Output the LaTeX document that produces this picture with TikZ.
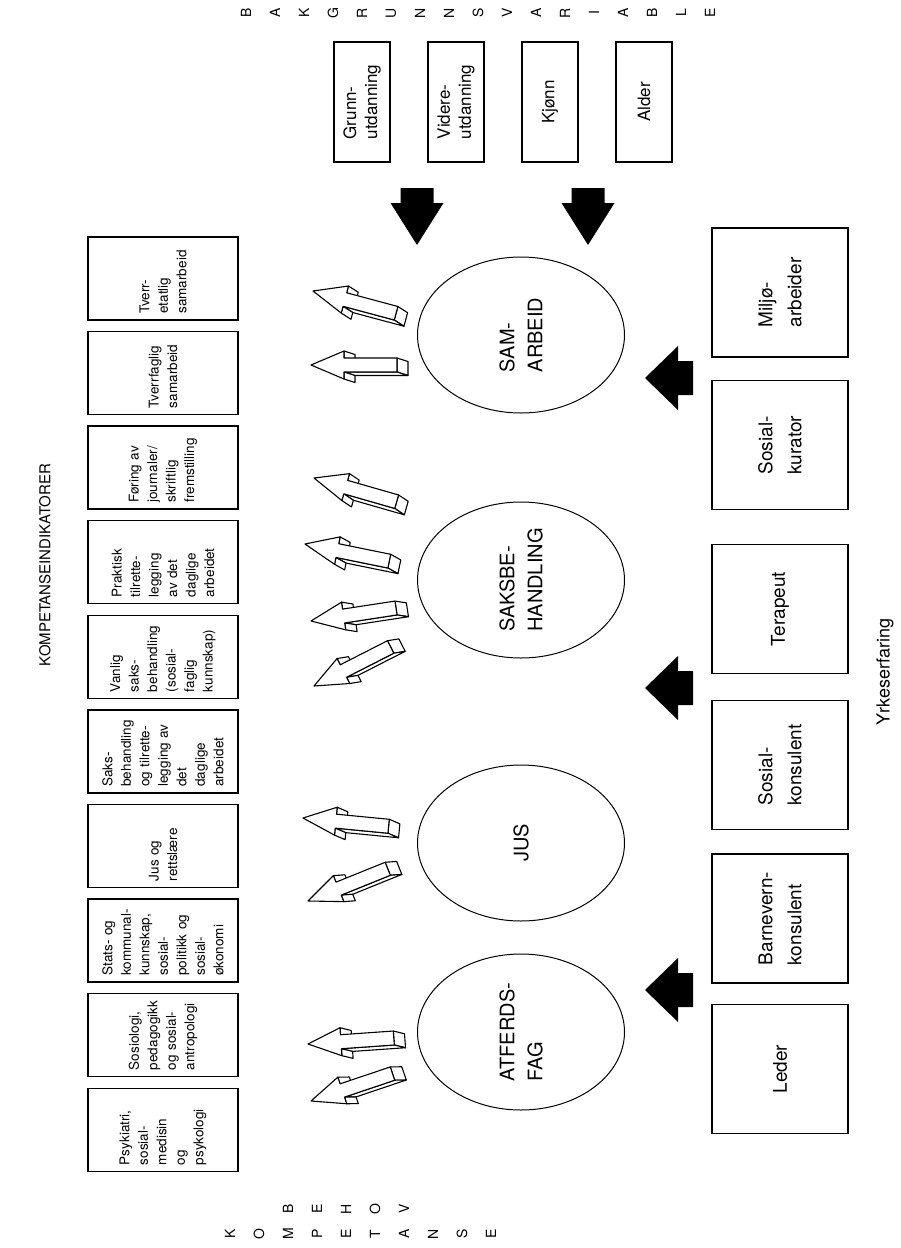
\documentclass[tikz,border=0pt]{standalone}
\usepackage{fontspec}
\setmainfont{TeX Gyre Heros}
\usetikzlibrary{shapes.geometric}

% 3D hollow arrow: tip x, tip y, angle
\newcommand{\hollowarrow}[3]{%
  \begin{scope}[shift={(#1,#2)}, rotate=#3]
    \draw[hollow] (86,-7) -- (97,-3.5) -- (97,10.5) -- (86,7) -- cycle;
    \draw[hollow] (33,7) -- (86,7) -- (97,10.5) -- (44,10.5) -- cycle;
    \draw[hollow] (33,-14) -- (33,-7) -- (44,-3.5) -- (44,-10.5) -- cycle;
    \draw[hollow] (33,14) -- (33,7) -- (44,10.5) -- (44,17.5) -- cycle;
    \draw[hollow] (0,0) -- (33,-14) -- (33,-7) -- (86,-7) -- (86,7)
      -- (33,7) -- (33,14) -- cycle;
  \end{scope}}
\newcommand{\solidleft}[2]{%
  \fill (#1,#2) -- ++(33,-32) -- ++(0,15) -- ++(15,0) -- ++(0,34)
    -- ++(-15,0) -- ++(0,15) -- cycle;}
\newcommand{\soliddown}[2]{%
  \fill (#1,#2) -- ++(-26.5,-42) -- ++(10,0) -- ++(0,-15) -- ++(33,0)
    -- ++(0,15) -- ++(10,0) -- cycle;}

\begin{document}
\begin{tikzpicture}[x=1pt, y=-1pt,
    every node/.style={font=\fontsize{14}{18}\selectfont},
    indbox/.style={draw, line width=1.3pt, rotate=90, minimum width=83pt,
      minimum height=150pt, text width=70pt, align=left, inner sep=0pt,
      font=\fontsize{13.5}{18.5}\selectfont},
    comp/.style={draw, ellipse, line width=1pt, rotate=90, minimum width=156pt,
      minimum height=207pt, inner sep=0pt, align=left,
      font=\fontsize{20}{28}\selectfont},
    job/.style={draw, line width=1.3pt, rotate=90, minimum width=129pt,
      minimum height=136pt, align=left, font=\fontsize{19}{29}\selectfont},
    bgr/.style={draw, line width=1.3pt, rotate=90, minimum width=120pt,
      minimum height=56pt, align=left, font=\fontsize{17}{21}\selectfont},
    hollow/.style={fill=white, draw, line width=1.1pt, line join=round}]
  \fill[white] (0,0) rectangle (900,1248);
  \useasboundingbox (0,0) rectangle (900,1248);

  \node[rotate=90, font=\fontsize{15}{18}\selectfont] (kompind) at (45,565) {KOMPETANSEINDIKATORER};
  \node[rotate=90, font=\fontsize{18}{20}\selectfont] (yrke) at (885,672) {Yrkeserfaring};

  % kompetanseindikatorer
  \node[indbox] (tetat) at (163,278.5) {Tverr-\\etatlig\\samarbeid};
  \node[indbox] (tfag) at (163,373) {Tverrfaglig\\samarbeid};
  \node[indbox] (foring) at (163,467.5) {Føring av\\journaler/\\skriftlig\\fremstilling};
  \node[indbox] (prakt) at (163,562) {Praktisk\\tilrette-\\legging\\av det\\daglige\\arbeidet};
  \node[indbox] (vanlig) at (163,657) {Vanlig\\saks-\\behandling\\(sosial-\\faglig\\kunnskap)};
  \node[indbox] (saks) at (163,751.5) {Saks-\\behandling\\og tilrette-\\legging av\\det\\daglige\\arbeidet};
  \node[indbox] (jus) at (163,846) {Jus og\\rettslære};
  \node[indbox] (stats) at (163,940.5) {Stats- og\\kommunal-\\kunnskap,\\sosial-\\politikk og\\sosial-\\økonomi};
  \node[indbox] (sosio) at (163,1035) {Sosiologi,\\pedagogikk\\og sosial-\\antropologi};
  \node[indbox] (psyk) at (163,1130) {Psykiatri,\\sosial-\\medisin\\og\\psykologi};

  % kompetanseomraader
  \node[comp] (sam) at (521,335) {SAM-\\ARBEID};
  \node[comp] (saksb) at (521,580) {SAKSBE-\\HANDLING};
  \node[comp] (jusc) at (521,843) {JUS};
  \node[comp] (atferd) at (521,1032) {ATFERDS-\\FAG};

  \hollowarrow{313}{291}{-15}
  \hollowarrow{311}{365}{0}
  \hollowarrow{314}{478}{-16}
  \hollowarrow{305}{544}{-11.5}
  \hollowarrow{311}{621}{8.7}
  \hollowarrow{314}{686}{27}
  \hollowarrow{303}{818}{-5.5}
  \hollowarrow{308}{901}{22}
  \hollowarrow{308}{1044}{4}
  \hollowarrow{311}{1101}{18.6}

  % yrkeserfaring
  \node[job] (miljo) at (780,292.5) {Miljø-\\arbeider};
  \node[job] (kurator) at (780,445) {Sosial-\\kurator};
  \node[job] (terapeut) at (780,609) {Terapeut};
  \node[job] (konsulent) at (780,765) {Sosial-\\konsulent};
  \node[job] (barnevern) at (780,918.5) {Barnevern-\\konsulent};
  \node[job] (leder) at (780,1069) {Leder};
  \solidleft{645}{378}
  \solidleft{645}{688}
  \solidleft{645}{990}

  % bakgrunnsvariable
  \node[bgr] (grunn) at (362,102) {Grunn-\\utdanning};
  \node[bgr] (videre) at (456,102) {Videre-\\utdanning};
  \node[bgr] (kjonn) at (550,102) {Kjønn};
  \node[bgr] (alder) at (644,102) {Alder};
  \soliddown{417}{245}
  \soliddown{588}{245}

  \foreach \c [count=\i from 0] in {B,A,K,G,R,U,N,N,S,V,A,R,I,A,B,L,E}
    \node[rotate=90] (bv\i) at (246+29*\i,13) {\c};
  \foreach \c [count=\i from 0] in {K,O,M,P,E,T,A,N,S,E}
    \node[rotate=90] (kn\i) at (230+29*\i,1234) {\c};
  \foreach \c [count=\i from 0] in {B,E,H,O,V}
    \node[rotate=90] (bh\i) at (288+29*\i,1209) {\c};
\end{tikzpicture}
\end{document}
